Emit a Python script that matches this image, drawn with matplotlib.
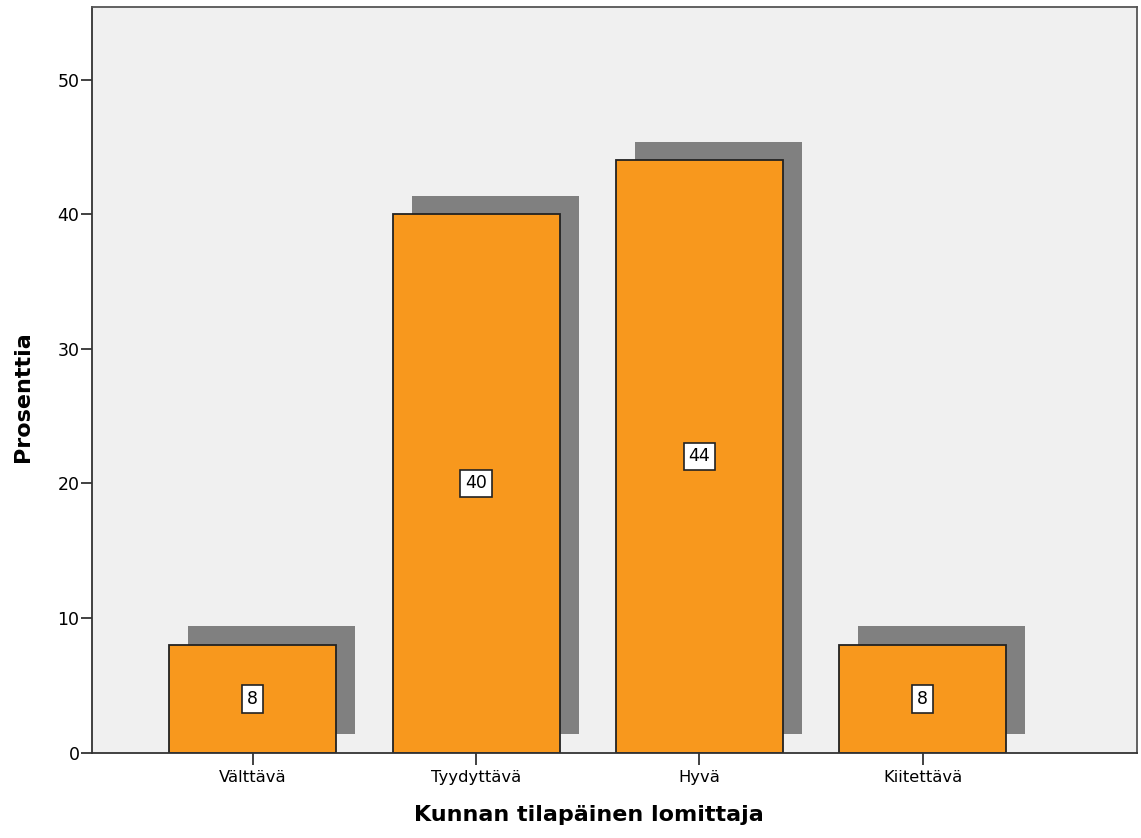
import numpy as np
import matplotlib
matplotlib.use("Agg")
import matplotlib.pyplot as plt

categories = ["Välttävä", "Tyydyttävä", "Hyvä", "Kiitettävä"]
percent = [8, 40, 44, 8]
y_ticks = [0, 10, 20, 30, 40, 50]

BAR_COLOR = "#F8981D"
SHADOW_COLOR = "#808080"
BG_COLOR = "#F0F0F0"

plt.rcParams["font.family"] = ["DejaVu Sans"]

fig = plt.figure(figsize=(11.41, 8.38), dpi=100)
ax = fig.add_axes([0.0806, 0.102, 0.916, 0.8896])
ax.set_facecolor(BG_COLOR)

x = np.arange(len(categories))
width = 0.748
dx, dy = 0.085, 1.38

# drop shadow behind each bar
ax.bar(x + dx, percent, width=width, bottom=dy, color=SHADOW_COLOR,
       linewidth=0, zorder=1)
ax.bar(x, percent, width=width, color=BAR_COLOR, edgecolor="#222222",
       linewidth=1.3, zorder=2)

for xi, v in zip(x, percent):
    ax.text(xi, v / 2, f"{v}", ha="center", va="center", fontsize=12.5,
            zorder=3,
            bbox=dict(boxstyle="square,pad=0.28", facecolor="white",
                      edgecolor="#222222", linewidth=1.2))

ax.set_xlim(-0.72, 3.96)
ax.set_ylim(0, 55.4)
ax.set_xticks(x)
ax.set_xticklabels(categories, fontsize=11.8)
ax.set_yticks(y_ticks)
ax.set_yticklabels([str(t) for t in y_ticks], fontsize=12.5)
ax.tick_params(axis="x", length=8.5, width=1.3, color="#333333", pad=4)
ax.tick_params(axis="y", length=8, width=1.3, color="#333333", pad=1)

for side in ["left", "bottom"]:
    ax.spines[side].set_color("#333333")
    ax.spines[side].set_linewidth(1.3)
for side in ["top", "right"]:
    ax.spines[side].set_color("#555555")
    ax.spines[side].set_linewidth(1.3)

ax.set_xlabel("Kunnan tilapäinen lomittaja", fontsize=16, fontweight="bold")
ax.set_ylabel("Prosenttia", fontsize=16, fontweight="bold")
ax.xaxis.set_label_coords(0.475, -0.071)
ax.yaxis.set_label_coords(-0.056, 0.478)

fig.savefig("out.png", dpi=100)
